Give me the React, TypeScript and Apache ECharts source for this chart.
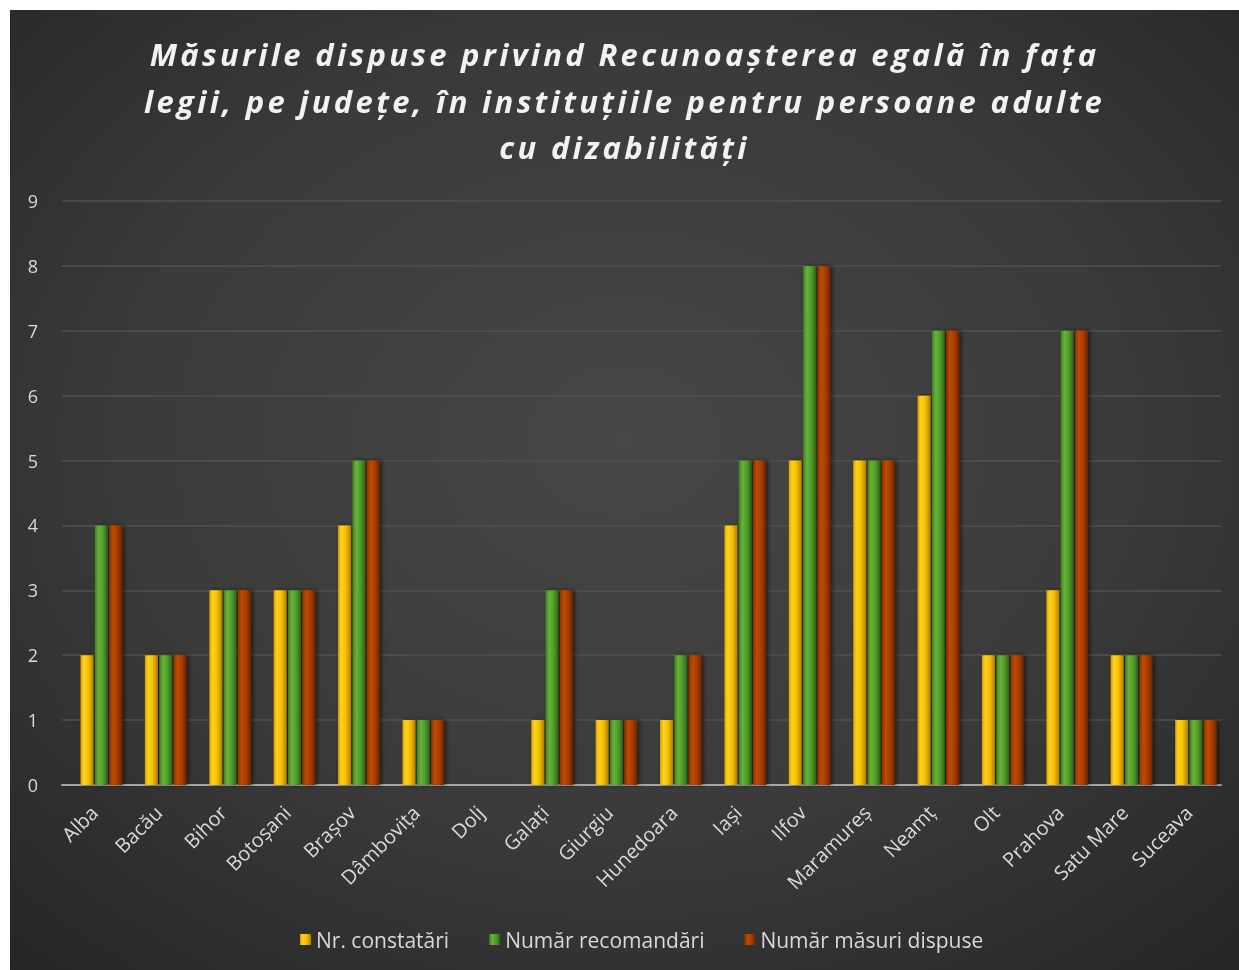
import React, { useEffect, useRef } from "react";
import * as echarts from "echarts";

const titleLines = [
  "Măsurile dispuse privind Recunoașterea egală în fața",
  "legii, pe județe, în instituțiile pentru persoane adulte",
  "cu dizabilități",
];

const categories = [
  "Alba", "Bacău", "Bihor", "Botoșani", "Brașov", "Dâmbovița", "Dolj", "Galați", "Giurgiu",
  "Hunedoara", "Iași", "Ilfov", "Maramureș", "Neamț", "Olt", "Prahova", "Satu Mare", "Suceava",
];

const constatari = [2, 2, 3, 3, 4, 1, 0, 1, 1, 1, 4, 5, 5, 6, 2, 3, 2, 1];
const recomandari = [4, 2, 3, 3, 5, 1, 0, 3, 1, 2, 5, 8, 5, 7, 2, 7, 2, 1];
const masuri = [4, 2, 3, 3, 5, 1, 0, 3, 1, 2, 5, 8, 5, 7, 2, 7, 2, 1];

const seriesNames = ["Nr. constatări", "Număr recomandări", "Număr măsuri dispuse"];

const yTicks = { min: 0, max: 9, interval: 1 };

function barGrad(stops: [number, string][]) {
  return new echarts.graphic.LinearGradient(
    0, 0, 1, 0,
    stops.map(([offset, color]) => ({ offset, color }))
  );
}

export default function App() {
  const ref = useRef<HTMLDivElement>(null);

  useEffect(() => {
    if (!ref.current) return;
    const chart = echarts.init(ref.current, null, { renderer: "svg" });

    const yellow = barGrad([
      [0, "#d9a000"],
      [0.25, "#ffd21f"],
      [0.6, "#f5bf00"],
      [1, "#b07e00"],
    ]);
    const green = barGrad([
      [0, "#3f7f1f"],
      [0.3, "#66b33a"],
      [0.65, "#4f9a2a"],
      [1, "#2f5f16"],
    ]);
    const red = barGrad([
      [0, "#8a3200"],
      [0.3, "#c04a05"],
      [0.65, "#a53d00"],
      [1, "#6b2400"],
    ]);

    const barCommon = {
      type: "bar" as const,
      barWidth: 13,
      barGap: "10%",
    };

    const mk = (name: string, data: number[], color: any) => ({
      ...barCommon,
      name,
      data,
      itemStyle: {
        color,
        shadowColor: "rgba(0,0,0,0.55)",
        shadowBlur: 4,
        shadowOffsetX: 2,
        shadowOffsetY: 0,
      },
      emphasis: { disabled: true },
    });

    chart.setOption({
      animation: false,
      backgroundColor: {
        type: "radial",
        x: 0.5,
        y: 0.45,
        r: 0.75,
        colorStops: [
          { offset: 0, color: "#474747" },
          { offset: 0.55, color: "#3a3a3a" },
          { offset: 1, color: "#252525" },
        ],
      },
      title: {
        text: titleLines.join("\n"),
        left: "center",
        top: 16,
        textStyle: {
          color: "#f2f2f2",
          fontFamily: "Open Sans",
          fontStyle: "italic",
          fontWeight: "bold",
          fontSize: 31,
          lineHeight: 46.5,
          align: "center",
        },
      },
      legend: {
        data: seriesNames,
        top: 914,
        left: 285,
        icon: "rect",
        itemWidth: 11,
        itemHeight: 11,
        itemGap: 40,
        textStyle: {
          color: "#d9d9d9",
          fontFamily: "Open Sans",
          fontSize: 21,
        },
      },
      grid: {
        left: 52,
        right: 18,
        top: 191,
        bottom: 185,
        containLabel: false,
      },
      xAxis: {
        type: "category",
        data: categories,
        axisLine: { show: true, lineStyle: { color: "#a6a6a6", width: 2 } },
        axisTick: { show: false },
        axisLabel: {
          color: "#d9d9d9",
          fontFamily: "Open Sans",
          fontSize: 20,
          rotate: 45,
          margin: 24,
          interval: 0,
        },
      },
      yAxis: {
        type: "value",
        min: yTicks.min,
        max: yTicks.max,
        interval: yTicks.interval,
        axisLine: { show: false },
        axisTick: { show: false },
        axisLabel: {
          color: "#d9d9d9",
          fontFamily: "Open Sans",
          fontSize: 18,
          margin: 24,
        },
        splitLine: { lineStyle: { color: "#505050", width: 1.5 } },
      },
      series: [
        {
          ...barCommon,
          name: "_offset",
          data: categories.map(() => null),
          itemStyle: { color: "transparent" },
          silent: true,
        },
        mk(seriesNames[0], constatari, yellow),
        mk(seriesNames[1], recomandari, green),
        mk(seriesNames[2], masuri, red),
      ],
    });

    // Title in the reference is drawn with wide letter spacing.
    const applySpacing = () => {
      if (!ref.current) return;
      ref.current.querySelectorAll("text").forEach((t) => {
        const s = (t.textContent || "").trim();
        if (titleLines.includes(s)) {
          (t as SVGTextElement).style.letterSpacing = "3.3px";
        }
      });
    };
    applySpacing();
    chart.on("finished", applySpacing);

    return () => chart.dispose();
  }, []);

  return (
    <div
      ref={ref}
      style={{ width: 1229, height: 960, position: "fixed", left: 10, top: 10 }}
    />
  );
}
